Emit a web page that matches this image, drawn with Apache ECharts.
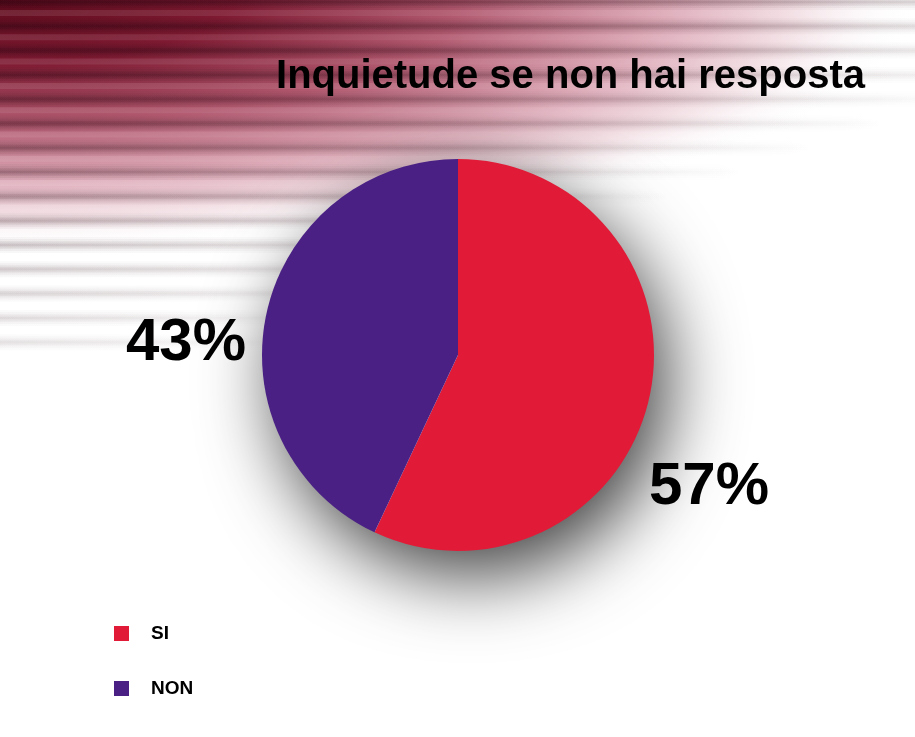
<!DOCTYPE html>
<html>
<head>
<meta charset="utf-8">
<script src="https://cdn.jsdelivr.net/npm/echarts@6/dist/echarts.min.js"></script>
<style>
html,body{margin:0;padding:0;background:#fff;}
#chart{width:915px;height:737px;}
</style>
</head>
<body>
<div id="chart"></div>
<script>
const titleText = 'Inquietude se non hai resposta';
const categories = ['SI', 'NON'];
const values = [57, 43];
const colors = ['#E11B37', '#4A2084'];

const FONT = '"Liberation Sans", Arial, sans-serif';
const chart = echarts.init(document.getElementById('chart'), null, {renderer: 'canvas'});

// decorative striped background
const bg = [];
bg.push({
  type: 'rect', z: -10, silent: true,
  shape: {x: 0, y: 0, width: 920, height: 920},
  scaleY: 0.27,
  style: {
    fill: new echarts.graphic.RadialGradient(0, 0, 1, [
      {offset: 0, color: '#5e0a1c'},
      {offset: 0.25, color: '#7e1a32'},
      {offset: 0.5, color: '#b25a70'},
      {offset: 0.72, color: '#ddaab8'},
      {offset: 0.88, color: '#f5e6ea'},
      {offset: 1, color: 'rgba(255,255,255,0)'}
    ])
  }
});
for (let k = 0; k < 15; k++) {
  const y = 2 + k * 24.3;
  const len = Math.max(300, 1250 - y * 2.9);
  const a = Math.max(0.1, 0.5 - y * 0.0012);
  const layers = [[16, 0.1], [12, 0.14], [8, 0.18], [5, 0.22], [2, 0.18]];
  layers.forEach(function (l) {
    bg.push({
      type: 'rect', z: -9, silent: true,
      shape: {x: 0, y: y - l[0] / 2, width: len, height: l[0]},
      style: {
        fill: new echarts.graphic.LinearGradient(0, 0, 1, 0, [
          {offset: 0, color: 'rgba(40,5,15,' + (a * l[1] * 1.6).toFixed(3) + ')'},
          {offset: 0.5, color: 'rgba(40,5,15,' + (a * l[1] * 0.9).toFixed(3) + ')'},
          {offset: 1, color: 'rgba(40,5,15,0)'}
        ])
      }
    });
  });
  bg.push({
    type: 'rect', z: -9, silent: true,
    shape: {x: 0, y: y + 8, width: len, height: 6},
    style: {
      fill: new echarts.graphic.LinearGradient(0, 0, 1, 0, [
        {offset: 0, color: 'rgba(255,255,255,0.1)'},
        {offset: 1, color: 'rgba(255,255,255,0)'}
      ])
    }
  });
}

const labelPos = {SI: [709, 487], NON: [186, 343]};

const option = {
  animation: false,
  backgroundColor: '#ffffff',
  color: colors,
  title: {
    text: titleText,
    right: 45,
    top: 52,
    textStyle: {fontFamily: FONT, fontSize: 40, fontWeight: 'bold', color: '#000'}
  },
  legend: {
    data: categories,
    orient: 'vertical',
    left: 114,
    top: 624,
    padding: 0,
    itemWidth: 15,
    itemHeight: 15,
    itemGap: 36,
    icon: 'rect',
    selectedMode: false,
    textStyle: {fontFamily: FONT, fontSize: 19, fontWeight: 'bold', color: '#000', padding: [0, 0, 0, 17]}
  },
  graphic: {elements: bg},
  series: [
    {
      type: 'pie',
      silent: true,
      center: [458, 355],
      radius: 195,
      z: 1,
      label: {show: false},
      labelLine: {show: false},
      itemStyle: {
        color: '#ffffff',
        shadowBlur: 75,
        shadowOffsetX: 14,
        shadowOffsetY: 26,
        shadowColor: 'rgba(0,0,0,0.75)'
      },
      data: [{value: values.reduce(function (s, v) { return s + v; }, 0), name: '__shadow'}]
    },
    {
      type: 'pie',
      center: [458, 355],
      radius: 196,
      startAngle: 90,
      clockwise: true,
      z: 2,
      data: categories.map(function (c, i) { return {name: c, value: values[i], itemStyle: {color: colors[i]}}; }),
      label: {
        show: true,
        position: 'outside',
        formatter: function (p) { return p.value + '%'; },
        fontFamily: FONT,
        fontSize: 60,
        fontWeight: 'bold',
        color: '#000'
      },
      labelLine: {show: false},
      labelLayout: function (p) {
        const pos = labelPos[categories[p.dataIndex]];
        return {x: pos[0], y: pos[1], align: 'center', verticalAlign: 'middle'};
      },
      emphasis: {disabled: true}
    }
  ]
};
chart.setOption(option);
</script>
</body>
</html>
